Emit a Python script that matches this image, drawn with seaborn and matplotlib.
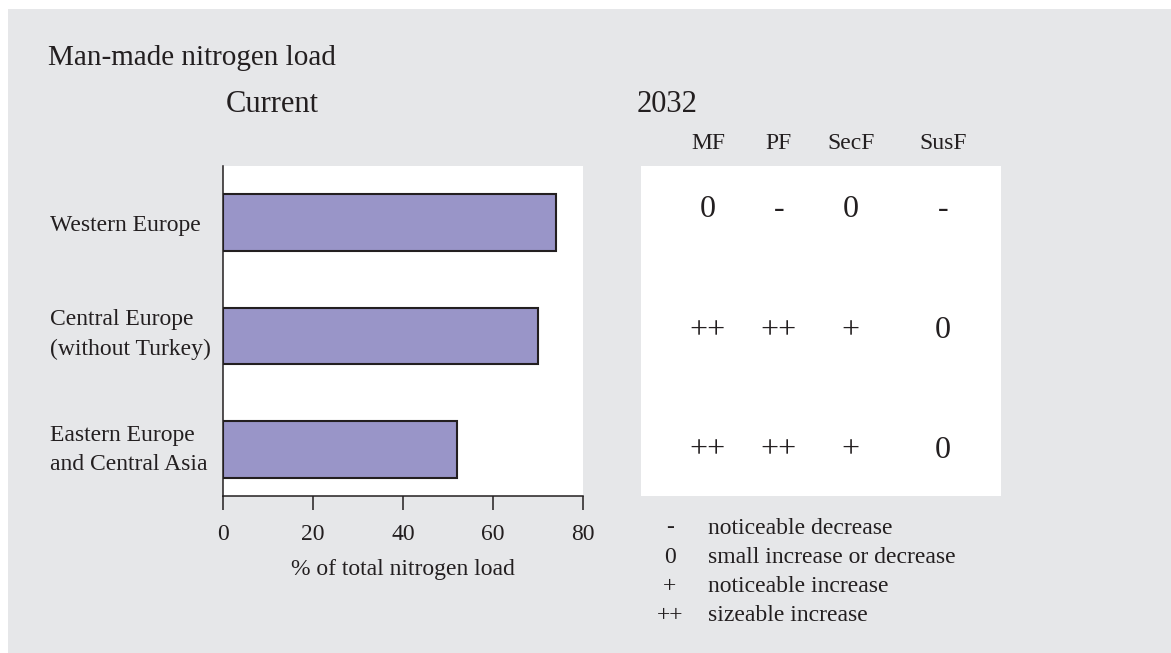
import matplotlib
matplotlib.use("Agg")
import matplotlib.pyplot as plt
import matplotlib.patches as mpatches
import seaborn as sns
import pandas as pd

# data
regions = ["Western Europe", "Central Europe\n(without Turkey)", "Eastern Europe\nand Central Asia"]
share = [74, 70, 52]
scenarios = ["MF", "PF", "SecF", "SusF"]
outlook_west = ["0", "-", "0", "-"]
outlook_central = ["++", "++", "+", "0"]
outlook_east = ["++", "++", "+", "0"]
legend_symbols = ["-", "0", "+", "++"]
legend_texts = ["noticeable decrease", "small increase or decrease",
                "noticeable increase", "sizeable increase"]
xticks = [0, 20, 40, 60, 80]

ink = "#231f20"
panel = "#e6e7e9"
bar_col = "#9995c8"

sns.set_style("white")
plt.rcParams['font.family'] = ['Liberation Serif', 'DejaVu Serif']
plt.rcParams['text.color'] = ink

W, H = 1171, 653
fig = plt.figure(figsize=(W / 100, H / 100), dpi=100, facecolor="white")
fig.patches.append(mpatches.Rectangle((8 / W, 0), 1, 1 - 9 / H, transform=fig.transFigure,
                                      facecolor=panel, edgecolor="none", zorder=-10))

ax_l, ax_w = 223 / W, 360 / W
ax_b, ax_h = 1 - 496 / H, 330 / H
ax = fig.add_axes([ax_l, ax_b, ax_w, ax_h])
df = pd.DataFrame({"region": regions, "share": share})
sns.barplot(data=df, x="share", y="region", orient="h", color=bar_col, saturation=1,
            width=0.5, edgecolor=ink, linewidth=1.5, ax=ax)
ax.set_facecolor("white")
ax.set_xlim(0, 80)
ax.set_ylim(2.41, -0.5)
ax.set_xticks(xticks)
ax.set_xlabel("% of total nitrogen load", fontsize=17, color=ink, labelpad=9.5)
ax.set_ylabel("")
for s in ["top", "right"]:
    ax.spines[s].set_visible(False)
for s in ["left", "bottom"]:
    ax.spines[s].set_color(ink)
    ax.spines[s].set_linewidth(1.1)
ax.tick_params(axis="x", direction="out", length=10, width=1.1, color=ink,
               labelsize=17, labelcolor=ink, pad=10.5, bottom=True)
ax.tick_params(axis="y", length=0, labelleft=False)

# region labels, left aligned in the margin
label_nudge = [0.027, -0.015, 0.0]
for i, (name, dy) in enumerate(zip(regions, label_nudge)):
    ax.text((50 - 223) / 360, i + dy, name, transform=ax.get_yaxis_transform(),
            ha="left", va="center", fontsize=17, linespacing=1.5, clip_on=False)

# scenario table
tx = fig.add_axes([641 / W, ax_b, ax_w, ax_h])
tx.set_facecolor("white")
tx.set_xlim(0, 1)
tx.set_ylim(2.41, -0.5)
tx.axis("off")
tx.add_patch(mpatches.Rectangle((0, 0), 1, 1, transform=tx.transAxes,
                                facecolor="white", edgecolor="none", zorder=-1))
col_x = [0.186, 0.383, 0.583, 0.839]
row_y = [-0.12, 0.955, 2.005]
for cx, name in zip(col_x, scenarios):
    tx.text(cx, -0.70, name, ha="center", va="center", fontsize=17, clip_on=False)
for ry, vals in zip(row_y, [outlook_west, outlook_central, outlook_east]):
    for cx, v in zip(col_x, vals):
        tx.text(cx, ry, v, ha="center", va="center", fontsize=23)

# titles
fig.text(48 / W, 1 - 58 / H, "Man-made nitrogen load", fontsize=21, va="center")
fig.text(226 / W, 1 - 105 / H, "Current", fontsize=22, va="center")
fig.text(637 / W, 1 - 105 / H, "2032", fontsize=22, va="center")

# key
for i, (sym, txt) in enumerate(zip(legend_symbols, legend_texts)):
    y = 1 - (528 + 29.3 * i) / H
    fig.text(670 / W, y, sym, fontsize=17, ha="center", va="center")
    fig.text(708 / W, y, txt, fontsize=17, ha="left", va="center")

fig.savefig("out.png", dpi=100, facecolor=fig.get_facecolor())
